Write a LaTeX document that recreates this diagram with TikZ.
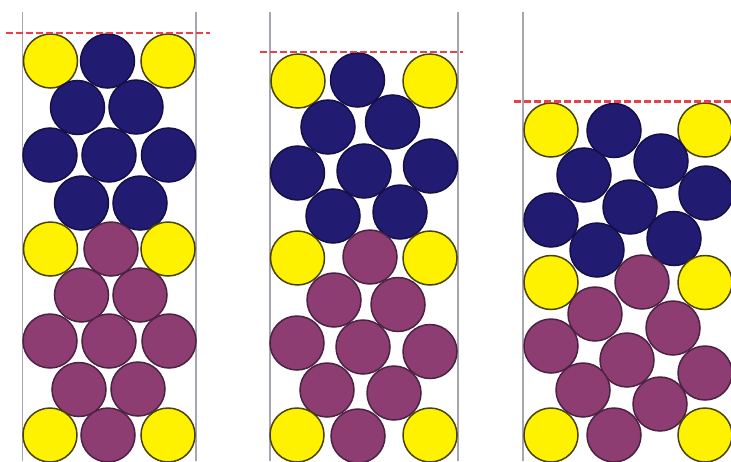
\documentclass[tikz,border=0pt]{standalone}
\begin{document}
\begin{tikzpicture}[x=1pt,y=-1pt,
  wall/.style={draw=wallc, line width=1.8pt},
  level/.style={draw=levelc, dash pattern=on 7pt off 3pt, line width=2.2pt},
  ball/.style={circle, minimum size=54pt, inner sep=0pt, line width=1.5pt},
  yel/.style={ball, fill=yellow, draw=yeld},
  nav/.style={ball, fill=navyc, draw=navyd},
  pur/.style={ball, fill=purc, draw=purd}]
\definecolor{navyc}{HTML}{221B72}
\definecolor{navyd}{HTML}{150F48}
\definecolor{purc}{HTML}{8E3D73}
\definecolor{purd}{HTML}{4A2242}
\definecolor{yeld}{HTML}{4A4200}
\definecolor{wallc}{HTML}{A6A6AE}
\definecolor{levelc}{HTML}{E8414C}
\useasboundingbox[fill=white] (0,0) rectangle (731,461);
% walls
\coordinate (w1t) at (22.5,12); \coordinate (w1b) at (22.5,461);
\coordinate (w2t) at (196,12); \coordinate (w2b) at (196,461);
\coordinate (w3t) at (270,12); \coordinate (w3b) at (270,461);
\coordinate (w4t) at (458,12); \coordinate (w4b) at (458,461);
\coordinate (w5t) at (523,12); \coordinate (w5b) at (523,461);
\draw[wall] (w1t) -- (w1b);
\draw[wall] (w2t) -- (w2b);
\draw[wall] (w3t) -- (w3b);
\draw[wall] (w4t) -- (w4b);
\draw[wall] (w5t) -- (w5b);
% panel 1
\node[yel] (a1) at (50.5,61) {};
\node[nav] (a2) at (107.5,61) {};
\node[yel] (a3) at (168,61) {};
\node[nav] (a4) at (77.5,107.5) {};
\node[nav] (a5) at (136,107) {};
\node[nav] (a6) at (50,155) {};
\node[nav] (a7) at (109,155) {};
\node[nav] (a8) at (168.5,155) {};
\node[nav] (a9) at (81.5,203) {};
\node[nav] (a10) at (140,203) {};
\node[yel] (a11) at (50.5,249) {};
\node[pur] (a12) at (111,249) {};
\node[yel] (a13) at (168,249) {};
\node[pur] (a14) at (81.5,295) {};
\node[pur] (a15) at (140,295) {};
\node[pur] (a16) at (50,341) {};
\node[pur] (a17) at (109,341) {};
\node[pur] (a18) at (169,341) {};
\node[pur] (a19) at (79,389.5) {};
\node[pur] (a20) at (138,389) {};
\node[yel] (a21) at (50,435) {};
\node[pur] (a22) at (108,435) {};
\node[yel] (a23) at (168,435) {};
% panel 2
\node[yel] (b1) at (298,81) {};
\node[nav] (b2) at (357.5,80) {};
\node[yel] (b3) at (430,81) {};
\node[nav] (b4) at (328,127) {};
\node[nav] (b5) at (392.5,122) {};
\node[nav] (b6) at (297.5,173) {};
\node[nav] (b7) at (364,171) {};
\node[nav] (b8) at (430.5,166) {};
\node[nav] (b9) at (333,216) {};
\node[nav] (b10) at (400,212) {};
\node[yel] (b11) at (297.5,258) {};
\node[pur] (b12) at (370,257) {};
\node[yel] (b13) at (430,258) {};
\node[pur] (b14) at (334,300) {};
\node[pur] (b15) at (398,304.5) {};
\node[pur] (b16) at (297,343) {};
\node[pur] (b17) at (363,347) {};
\node[pur] (b18) at (430,351.5) {};
\node[pur] (b19) at (327,390) {};
\node[pur] (b20) at (394,393) {};
\node[yel] (b21) at (297,435) {};
\node[pur] (b22) at (358,436) {};
\node[yel] (b23) at (430,435) {};
% panel 3
\node[yel] (c1) at (551,130) {};
\node[nav] (c2) at (614,130.5) {};
\node[yel] (c3) at (705,130) {};
\node[nav] (c4) at (584,175) {};
\node[nav] (c5) at (661,161) {};
\node[nav] (c6) at (706,193) {};
\node[nav] (c7) at (551,220) {};
\node[nav] (c8) at (630,207) {};
\node[nav] (c9) at (597,250) {};
\node[nav] (c10) at (674,238.5) {};
\node[yel] (c11) at (551,282.5) {};
\node[pur] (c12) at (642,282) {};
\node[yel] (c13) at (705,282.5) {};
\node[pur] (c14) at (595,314) {};
\node[pur] (c15) at (673,328) {};
\node[pur] (c16) at (551,346) {};
\node[pur] (c17) at (627,360) {};
\node[pur] (c18) at (705,373) {};
\node[pur] (c19) at (583,390) {};
\node[pur] (c20) at (660,404) {};
\node[yel] (c21) at (551,435) {};
\node[pur] (c22) at (614,435) {};
\node[yel] (c23) at (705,435) {};
% fill levels
\coordinate (l1a) at (6,33); \coordinate (l1b) at (210,33);
\coordinate (l2a) at (260,52); \coordinate (l2b) at (463,52);
\coordinate (l3a) at (514,101.5); \coordinate (l3b) at (731,101.5);
\draw[level] (l1a) -- (l1b);
\draw[level] (l2a) -- (l2b);
\draw[level] (l3a) -- (l3b);
\end{tikzpicture}
\end{document}
